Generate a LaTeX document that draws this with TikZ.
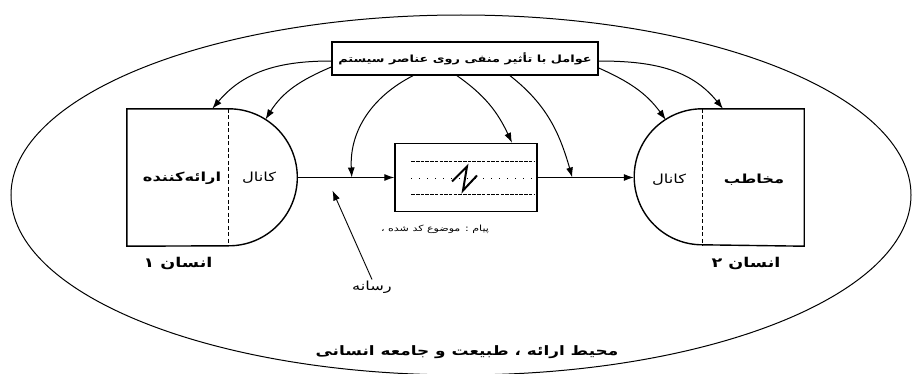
\documentclass[tikz,border=0pt]{standalone}
\usepackage{fontspec}
\usetikzlibrary{arrows.meta,calc,shapes.geometric}
\TeXXeTstate=1
\newfontfamily\arabicfont[Script=Arabic,FakeStretch=1.3]{DejaVu Sans}
\newcommand{\fa}[1]{\beginR #1\endR}
\begin{document}
\begin{tikzpicture}[x=1pt,y=1pt,
  shp/.style={line width=1.4pt,draw=black},
  con/.style={line width=1pt,-{Latex[length=10pt,width=7pt]}},
  lbl/.style={inner sep=0pt,font=\arabicfont\fontsize{12.5}{14}\selectfont},
  bold/.style={inner sep=0pt,font=\arabicfont\bfseries\fontsize{12.5}{14}\selectfont},
  big/.style={inner sep=0pt,font=\arabicfont\bfseries\fontsize{13.5}{15}\selectfont},
  divider/.style={line width=1.2pt,dash pattern=on 4pt off 2.5pt},
  codeline/.style={line width=0.7pt,dash pattern=on 3.5pt off 1.2pt},
  codedots/.style={line width=1pt,dash pattern=on 1pt off 7pt}]
\useasboundingbox (0,0) rectangle (912,373);
\fill[white] (0,0) rectangle (912,373);
% environment
\node[draw,ellipse,line width=1pt,minimum width=900,minimum height=360,inner sep=0] (env) at (461,178) {};
\node[big,font=\arabicfont\bfseries\fontsize{13}{15}\selectfont] (envlbl) at (467,21) {\fa{محیط ارائه ، طبیعت و جامعه انسانی}};
% top box
\node[shp,draw,minimum width=266,minimum height=33,inner sep=0,font=\arabicfont\bfseries\fontsize{9.9}{12}\selectfont] (top) at (465,314.5) {\fa{عوامل با تأثیر منفی روی عناصر سیستم}};
% person 1
\node[minimum width=170.5,minimum height=137,inner sep=0] (p1) at (212.25,195.5) {};
\draw[shp] (p1.north west) -- ++(102,0) arc[start angle=90,end angle=-90,radius=68.5] -- (p1.south west) -- cycle;
\draw[divider] ($(p1.north west)+(102,0)$) -- ($(p1.south west)+(102,0)$);
\node[bold] (sender) at (182,195) {\fa{ارائه‌کننده}};
\node[lbl] (ch1) at (259,195) {\fa{کانال}};
\node[big] (h1) at (178,110) {\fa{انسان ۱}};
% person 2
\node[minimum width=170,minimum height=137,inner sep=0] (p2) at (719,195.5) {};
\draw[shp] (p2.north east) -- ++(-102,0) arc[start angle=90,end angle=270,radius=68] -- (p2.south east) -- cycle;
\draw[divider] ($(p2.north east)+(-102,0)$) -- ($(p2.south east)+(-102,0)$);
\node[bold] (recv) at (754,193) {\fa{مخاطب}};
\node[lbl] (ch2) at (669,193) {\fa{کانال}};
\node[big] (h2) at (746,110) {\fa{انسان ۲}};
% message
\node[shp,draw,minimum width=142,minimum height=68,inner sep=0] (msg) at (466,195.5) {};
\draw[codeline] ($(msg.west)+(17,16)$) -- ($(msg.east)+(-4,16)$);
\draw[codedots] ($(msg.west)+(17,-1)$) -- ($(msg.east)+(-4,-1)$);
\draw[codeline] ($(msg.west)+(17,-17)$) -- ($(msg.east)+(-4,-17)$);
\draw[line width=2pt] ($(msg.center)+(-14,-4)$) -- ++(15,15) -- ++(-4,-24) -- ++(14,15);
\node[inner sep=0pt,font=\arabicfont\fontsize{8.5}{10}\selectfont] (msglbl) at (435,144) {\fa{پیام : موضوع کد شده ،}};
% channel line
\draw[con] (p1.east) -- (msg.west);
\draw[con] (msg.east) -- (p2.west);
\coordinate (m1) at ($(p1.east)!0.56!(msg.west)$);
\coordinate (m2) at ($(msg.east)!0.36!(p2.west)$);
\coordinate (m0) at ($(p1.east)!0.36!(msg.west)+(0,-13)$);
\node[inner sep=0pt,font=\arabicfont\fontsize{12.5}{14}\selectfont] (ras) at (372,86) {\fa{رسانه}};
\draw[line width=0.9pt,-{Latex[length=10pt,width=7pt]}] ([yshift=1pt]ras.north) -- (m0);
% influences
\draw[con] ([yshift=-2.5pt]top.west) to[out=180,in=50] (p1.north);
\draw[con] ([yshift=-8.5pt]top.west) to[out=203,in=58] ($(p1.east)+(-68.5,0)+(58:68.5)$);
\draw[con] ([xshift=-52pt]top.south) to[out=207,in=93] (m1);
\draw[con] ([xshift=-8pt]top.south) to[out=-35,in=115] ([xshift=46pt]msg.north);
\draw[con] ([xshift=45pt]top.south) to[out=-38,in=106] (m2);
\draw[con] ([yshift=-9.5pt]top.east) to[out=-24,in=126] ($(p2.west)+(68,0)+(122:68)$);
\draw[con] ([yshift=-2.5pt]top.east) to[out=0,in=129] ([xshift=4pt]p2.north);
\end{tikzpicture}
\end{document}
